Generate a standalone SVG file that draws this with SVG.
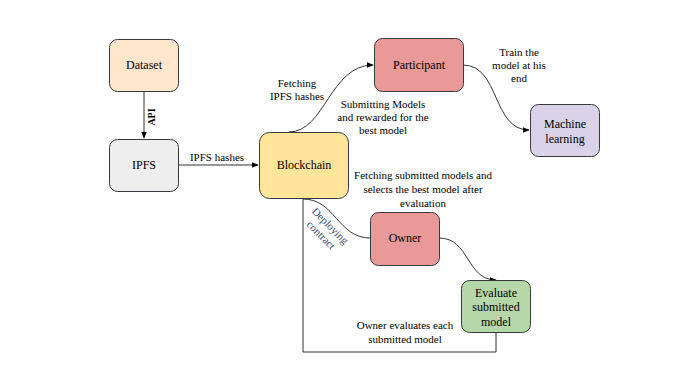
<svg xmlns="http://www.w3.org/2000/svg" width="691" height="384" viewBox="0 0 691 384">
<style>
.node{stroke:#36393d;stroke-width:1}
.nt{font-family:"Liberation Serif",serif;font-size:12px;fill:#000;text-anchor:middle}
.lb{font-family:"Liberation Serif",serif;font-size:11px;fill:#000;text-anchor:middle}
.edge{fill:none;stroke:#333;stroke-width:1}
</style>
<defs>
<marker id="arr" viewBox="0 0 10 10" refX="9" refY="5" markerWidth="7" markerHeight="7" orient="auto" markerUnits="userSpaceOnUse">
<path d="M0,1 L10,5 L0,9 Z" fill="#000"/>
</marker>
</defs>
<rect width="691" height="384" fill="#fff"/>
<g id="connectors">
<path class="edge" d="M144,91 L144,138" marker-end="url(#arr)"/>
<path class="edge" d="M178,165 L258,165" marker-end="url(#arr)"/>
<path class="edge" d="M289,132 C325,132 330,65 373,65" marker-end="url(#arr)"/>
<path class="edge" d="M463,65 C500,65 492,130 529,130" marker-end="url(#arr)"/>
<path class="edge" d="M303,199 C335,199 338,238 370,238"/>
<path class="edge" d="M439,238 C470,238 466,280 496,280" marker-end="url(#arr)"/>
<path class="edge" d="M303,198 L303,352 L496,352 L496,332"/>
<text class="lb" font-weight="bold" font-size="10" transform="translate(155,117) rotate(-90)" style="font-size:10px">API</text>
<text class="lb" x="217" y="161">IPFS hashes</text>
<text class="lb" x="297" y="87">Fetching</text>
<text class="lb" x="297" y="100">IPFS hashes</text>
<text class="lb" x="383" y="108">Submitting Models</text>
<text class="lb" x="383" y="121">and rewarded for the</text>
<text class="lb" x="383" y="134">best model</text>
<text class="lb" x="519" y="56">Train the</text>
<text class="lb" x="519" y="69">model at his</text>
<text class="lb" x="519" y="82">end</text>
<text class="lb" x="423" y="179">Fetching submitted models and</text>
<text class="lb" x="423" y="193">selects the best model after</text>
<text class="lb" x="423" y="207">evaluation</text>
<text class="lb" x="405" y="329">Owner evaluates each</text>
<text class="lb" x="405" y="343">submitted model</text>
<g transform="translate(325.5,230.5) rotate(45)">
<text class="lb" x="0" y="-3" style="fill:#3d4a66">Deploying</text>
<text class="lb" x="0" y="10" style="fill:#3d4a66">contract</text>
</g>
</g>
<g id="dataset">
<rect class="node" x="109.5" y="39.5" width="69" height="52" rx="8" fill="#ffe6cc"/>
<text class="nt" x="144" y="69">Dataset</text>
</g>
<g id="ipfs">
<rect class="node" x="109.5" y="139.5" width="69" height="52" rx="8" fill="#eeeeee"/>
<text class="nt" x="144" y="169">IPFS</text>
</g>
<g id="blockchain">
<rect class="node" x="259.5" y="132.5" width="89" height="66" rx="10" fill="#ffe599"/>
<text class="nt" x="304" y="169">Blockchain</text>
</g>
<g id="participant">
<rect class="node" x="374.5" y="38.5" width="89" height="53" rx="8" fill="#ea9999"/>
<text class="nt" x="419" y="69">Participant</text>
</g>
<g id="machine-learning">
<rect class="node" x="530.5" y="104.5" width="69" height="52" rx="8" fill="#d9d2e9"/>
<text class="nt" x="565" y="128">Machine</text>
<text class="nt" x="565" y="143">learning</text>
</g>
<g id="owner">
<rect class="node" x="370.5" y="212.5" width="69" height="53" rx="8" fill="#ea9999"/>
<text class="nt" x="405" y="242">Owner</text>
</g>
<g id="evaluate">
<rect class="node" x="461.5" y="280.5" width="69" height="52" rx="8" fill="#b6d7a8"/>
<text class="nt" x="496" y="297">Evaluate</text>
<text class="nt" x="496" y="311">submitted</text>
<text class="nt" x="496" y="326">model</text>
</g>
</svg>
